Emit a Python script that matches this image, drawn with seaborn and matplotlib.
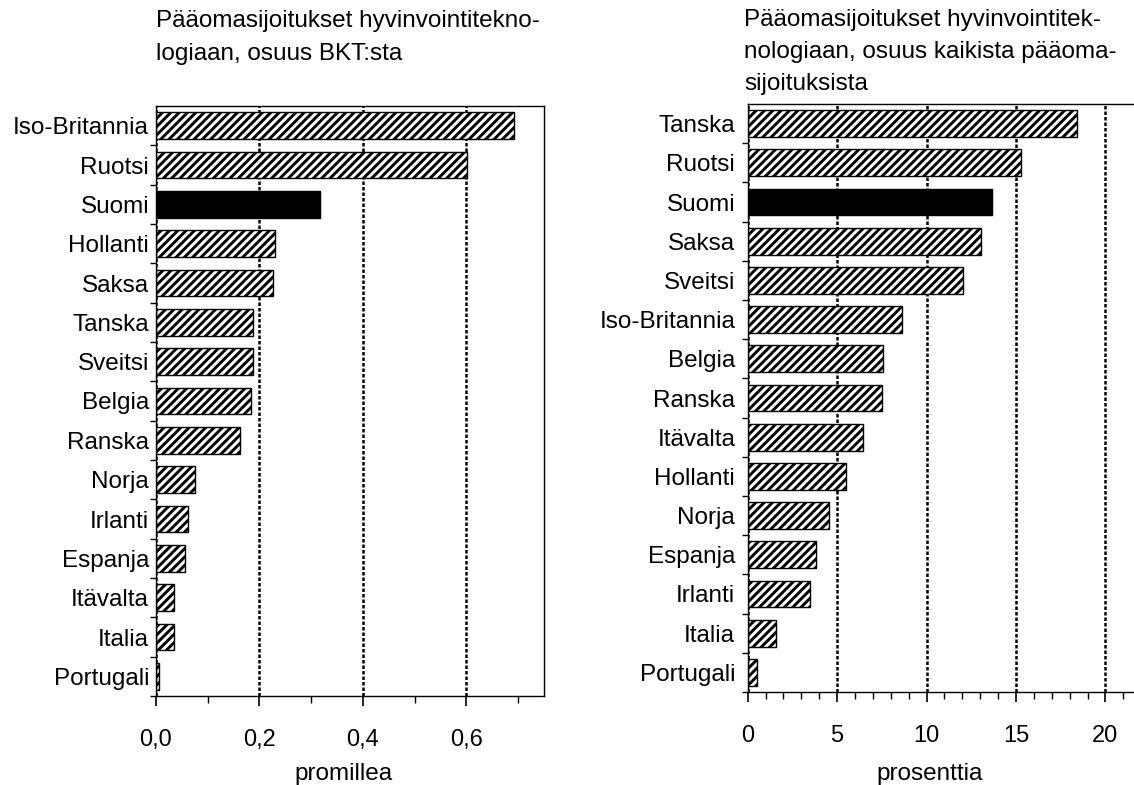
import numpy as np
import pandas as pd
import seaborn as sns
import matplotlib.pyplot as plt
from matplotlib.ticker import MultipleLocator, FixedLocator, FuncFormatter

# Left panel: share of GDP (per mille)
gdp_countries = ['Iso-Britannia', 'Ruotsi', 'Suomi', 'Hollanti', 'Saksa', 'Tanska', 'Sveitsi',
                 'Belgia', 'Ranska', 'Norja', 'Irlanti', 'Espanja', 'Itävalta', 'Italia', 'Portugali']
gdp_values = [0.692, 0.602, 0.317, 0.230, 0.226, 0.188, 0.188, 0.183, 0.163,
              0.076, 0.061, 0.057, 0.035, 0.035, 0.006]
gdp_title = ['Pääomasijoitukset hyvinvointitekno-', 'logiaan, osuus BKT:sta']

# Right panel: share of all venture capital (%)
vc_countries = ['Tanska', 'Ruotsi', 'Suomi', 'Saksa', 'Sveitsi', 'Iso-Britannia', 'Belgia', 'Ranska',
                'Itävalta', 'Hollanti', 'Norja', 'Espanja', 'Irlanti', 'Italia', 'Portugali']
vc_values = [18.42, 15.30, 13.65, 13.07, 12.06, 8.63, 7.57, 7.51,
             6.47, 5.52, 4.57, 3.80, 3.47, 1.60, 0.54]
vc_title = ['Pääomasijoitukset hyvinvointitek-', 'nologiaan, osuus kaikista pääoma-', 'sijoituksista']

highlight = 'Suomi'

sns.set_style('white')
plt.rcParams['font.family'] = ['Liberation Sans', 'DejaVu Sans']
plt.rcParams['hatch.linewidth'] = 2.1
plt.rcParams['text.color'] = 'black'
plt.rcParams['xtick.color'] = 'black'
plt.rcParams['ytick.color'] = 'black'
plt.rcParams['axes.labelcolor'] = 'black'

W, H = 1134, 785


def draw_panel(ax, countries, values, xmax, major, minor, fmt, xlabel, label_x, label_y, ypad):
    df = pd.DataFrame({'country': countries, 'value': values})
    sns.barplot(data=df, x='value', y='country', orient='h', color='white',
                edgecolor='black', linewidth=1.0, width=0.68, saturation=1, ax=ax)
    for patch, name in zip(ax.patches, countries):
        if name == highlight:
            patch.set_facecolor('black')
        else:
            patch.set_hatch('////')

    ax.set_xlim(0, xmax)
    ax.set_ylim(len(countries) - 0.5, -0.5)
    ax.xaxis.set_major_locator(MultipleLocator(major))
    ax.xaxis.set_minor_locator(MultipleLocator(minor))
    ax.xaxis.set_major_formatter(FuncFormatter(fmt))
    # small ticks between the categories (not at the very top)
    ax.yaxis.set_minor_locator(FixedLocator(np.arange(0.5, len(countries), 1)))

    ax.tick_params(axis='x', which='major', length=7, width=1.2, direction='out',
                   labelsize=17, pad=17, bottom=True)
    ax.tick_params(axis='x', which='minor', length=5, width=1.0, direction='out', bottom=True)
    ax.tick_params(axis='y', which='major', length=0, labelsize=17.5, pad=ypad)
    ax.tick_params(axis='y', which='minor', length=4, width=1.0, direction='out', left=True)

    ax.grid(axis='x', which='major', color='black', linestyle=(0, (1.4, 0.8)), linewidth=1.8)
    ax.set_axisbelow(True)
    for s in ax.spines.values():
        s.set_color('black')
        s.set_linewidth(1.0)

    ax.set_ylabel('')
    ax.set_xlabel(xlabel, fontsize=17.5)
    ax.xaxis.set_label_coords(label_x, label_y)


fig = plt.figure(figsize=(W / 100, H / 100), dpi=100)

# left panel
ax1 = fig.add_axes([156 / W, 1 - 696 / H, 388 / W, 590 / H])
draw_panel(ax1, gdp_countries, gdp_values, 0.75, 0.2, 0.1,
           lambda v, p: f'{v:.1f}'.replace('.', ','), 'promillea', 0.482, -0.114, 5)

# right panel
ax2 = fig.add_axes([747.7 / W, 1 - 692 / H, (W - 747.7) / W, 588 / H])
draw_panel(ax2, vc_countries, vc_values, 21.6, 5, 1,
           lambda v, p: f'{v:.0f}', 'prosenttia', 0.472, -0.121, 9)
ax2.spines['right'].set_visible(False)

# titles
for i, line in enumerate(gdp_title):
    fig.text(156 / W, 1 - (27 + 33 * i) / H, line, fontsize=17.5, va='baseline', ha='left')
for i, line in enumerate(vc_title):
    fig.text(744 / W, 1 - (26 + 32 * i) / H, line, fontsize=17.5, va='baseline', ha='left')

fig.savefig('out.png', dpi=100)
